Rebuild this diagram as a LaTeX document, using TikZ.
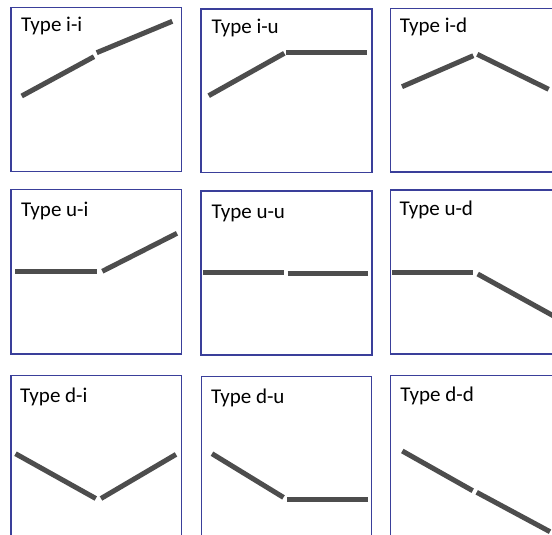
\documentclass[tikz,border=0pt]{standalone}
\usepackage{fontspec}
\setmainfont{Carlito}
\definecolor{frame}{HTML}{3A3F9A}
\definecolor{seg}{HTML}{4D4D4D}
\tikzset{
  panel/.style={draw=frame, line width=1.3pt},
  segline/.style={draw=seg, line width=5pt},
  lbl/.style={anchor=base west, inner sep=0pt, font=\fontsize{21}{25}\selectfont}
}
\begin{document}
\begin{tikzpicture}[x=1pt,y=-1pt]
\useasboundingbox (0,0) rectangle (552,535);
\clip (0,0) rectangle (552,535);
\fill[white] (0,0) rectangle (552,535);
% panels
\draw[panel] (11,7.3) rectangle (181.7,171.7);
\draw[panel] (201,9) rectangle (372,172.7);
\draw[panel] (390.3,8.7) rectangle (561,172);
\draw[panel] (11,189.3) rectangle (181.7,354);
\draw[panel] (201,191) rectangle (372,355);
\draw[panel] (390.3,190) rectangle (561,354);
\draw[panel] (11,375.2) rectangle (181.7,540);
\draw[panel] (201.4,376.6) rectangle (371.8,541);
\draw[panel] (390.5,375.6) rectangle (561,540);
% labels
\node[lbl] (l1) at (21,31.9) {Type i-i};
\node[lbl] (l2) at (211.3,33.8) {Type i-u};
\node[lbl] (l3) at (399.6,32.2) {Type i-d};
\node[lbl] (l4) at (21,216.5) {Type u-i};
\node[lbl] (l5) at (211.3,218.2) {Type u-u};
\node[lbl] (l6) at (399.3,215.6) {Type u-d};
\node[lbl] (l7) at (20,402.5) {Type d-i};
\node[lbl] (l8) at (210.8,403.8) {Type d-u};
\node[lbl] (l9) at (400.1,401.5) {Type d-d};
% segments row 1
\draw[segline] (21.7,96) -- (94,56.7);
\draw[segline] (96.7,52.7) -- (172.3,21.3);
\draw[segline] (208.7,95.7) -- (284.3,53.3);
\draw[segline] (286,52.7) -- (366.7,52.7);
\draw[segline] (402,86.7) -- (473.3,55.7);
\draw[segline] (477.3,54.3) -- (548.7,89.3);
% row 2
\draw[segline] (15,271) -- (96.7,271);
\draw[segline] (102.3,271.3) -- (177,233.3);
\draw[segline] (203.3,272.7) -- (284.3,272.7);
\draw[segline] (287.7,273.7) -- (368,273.7);
\draw[segline] (392,272.7) -- (472.7,272.7);
\draw[segline] (477.7,274) -- (560,319.5);
% row 3
\draw[segline] (15.5,453.7) -- (95.8,498.5);
\draw[segline] (101,498.5) -- (176,454.4);
\draw[segline] (212,453.7) -- (283.5,497.4);
\draw[segline] (287,499.5) -- (368.3,499.5);
\draw[segline] (402.3,451) -- (472.7,490.7);
\draw[segline] (476.7,492.3) -- (550,531.7);
\end{tikzpicture}
\end{document}
